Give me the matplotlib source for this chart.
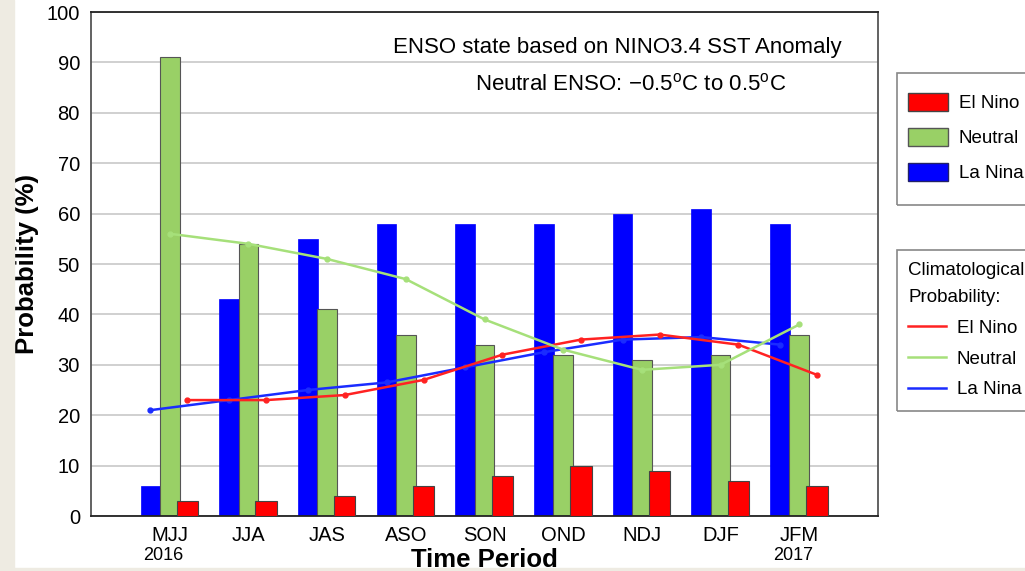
import matplotlib
matplotlib.use("Agg")
import numpy as np
import matplotlib.pyplot as plt
from matplotlib.patches import Patch, Rectangle
from matplotlib.lines import Line2D
from matplotlib.transforms import blended_transform_factory

plt.rcParams['font.family'] = ['Liberation Sans', 'DejaVu Sans']
plt.rcParams['mathtext.fontset'] = 'custom'
plt.rcParams['mathtext.rm'] = 'Liberation Sans'

# data
periods = ['MJJ', 'JJA', 'JAS', 'ASO', 'SON', 'OND', 'NDJ', 'DJF', 'JFM']
la_nina = [6, 43, 55, 58, 58, 58, 60, 61, 58]
neutral = [91, 54, 41, 36, 34, 32, 31, 32, 36]
el_nino = [3, 3, 4, 6, 8, 10, 9, 7, 6]

clim_el_nino = [23, 23, 24, 27, 32, 35, 36, 34, 28]
clim_neutral = [56, 54, 51, 47, 39, 33, 29, 30, 38]
clim_la_nina = [21, 23, 25, 26.5, 29.5, 32.5, 35, 35.5, 34]

c_red = '#ff0000'
c_green = '#99d066'
c_blue = '#0000ff'

W, H = 1025, 571
fig = plt.figure(figsize=(W / 100, H / 100), dpi=100)
fig.patches.append(Rectangle((0, 0), 14 / W, 1, transform=fig.transFigure,
                             color='#eeebe2', zorder=0))
fig.patches.append(Rectangle((0, 0), 1, 3 / H, transform=fig.transFigure,
                             color='#eeebe2', zorder=0))
ax = fig.add_axes([91 / W, 55 / H, 787 / W, 504 / H])

x = np.arange(len(periods))
w = 0.25
xb, xg, xr = x - 0.245, x, x + 0.225

ax.bar(xb, la_nina, w, color=c_blue, edgecolor=c_blue, linewidth=0.5, zorder=2)
ax.bar(xg, neutral, w, color=c_green, edgecolor='#555555', linewidth=0.8, zorder=2)
ax.bar(xr, el_nino, w + 0.02, color=c_red, edgecolor='#444444', linewidth=0.8, zorder=3)

ax.plot(xb, clim_la_nina, color='#1a2cff', lw=1.8, marker='o', ms=3.5, zorder=4)
ax.plot(xr, clim_el_nino, color='#ff2222', lw=1.8, marker='o', ms=3.5, zorder=4)
ax.plot(xg, clim_neutral, color='#a6e07a', lw=1.8, marker='o', ms=3.5, zorder=4)

ax.set_xlim(-1, 9)
ax.set_ylim(0, 100)
ax.set_yticks(range(0, 101, 10))
ax.set_xticks(x)
ax.set_xticklabels(periods)
ax.tick_params(axis='both', length=0, labelsize=14.5)
ax.tick_params(axis='y', pad=8)
ax.tick_params(axis='x', pad=7)
ax.yaxis.grid(True, color='#c8c8c8', lw=1.2, zorder=0)
ax.set_axisbelow(True)
for s in ['bottom', 'top']:
    ax.spines[s].set_color('#222222')
    ax.spines[s].set_linewidth(1.3)
for s in ['left', 'right']:
    ax.spines[s].set_color('#555555')
    ax.spines[s].set_linewidth(1.3)

ax.set_ylabel('Probability (%)', fontsize=18.5, fontweight='bold')
ax.yaxis.label.set_va('center')
ax.yaxis.set_label_coords(-(91 - 27) / 787, 0.5)
ax.set_xlabel('Time Period', fontsize=18.5, fontweight='bold')
ax.xaxis.label.set_va('top')
ax.xaxis.set_label_coords(0.5, -(548 - 516) / 504)

tr = blended_transform_factory(ax.transData, ax.transAxes)
ax.text(-0.08, -(556 - 516) / 504, '2016', transform=tr, ha='center', va='center', fontsize=13)
ax.text(7.92, -(556 - 516) / 504, '2017', transform=tr, ha='center', va='center', fontsize=13)

ax.text((617 - 91) / 787, 1 - (47 - 12) / 504, 'ENSO state based on NINO3.4 SST Anomaly',
        transform=ax.transAxes, ha='center', va='center', fontsize=16)
ax.text((631 - 91) / 787, 1 - (84 - 12) / 504,
        r'Neutral ENSO: $-$0.5$^\mathrm{o}$C to 0.5$^\mathrm{o}$C',
        transform=ax.transAxes, ha='center', va='center', fontsize=16)

# legend boxes (frames drawn separately so padding matches)
for top, bottom in [(73, 205), (250, 411)]:
    fig.patches.append(Rectangle((897 / W, 1 - bottom / H), 200 / W, (bottom - top) / H,
                                 transform=fig.transFigure, fill=False,
                                 edgecolor='#888888', lw=1.2, zorder=5))

h1 = [Patch(facecolor=c_red, edgecolor='#444444'),
      Patch(facecolor=c_green, edgecolor='#555555'),
      Patch(facecolor=c_blue, edgecolor='#222266')]
leg1 = fig.legend(h1, ['El Nino', 'Neutral', 'La Nina'], loc='upper left',
                  bbox_to_anchor=(908 / W, 1 - 93 / H), borderaxespad=0,
                  fontsize=13.5, frameon=False,
                  handlelength=2.15, handleheight=1.07, labelspacing=0.85,
                  borderpad=0, handletextpad=0.55)

h2 = [Line2D([], [], color='#ff2222', lw=1.8),
      Line2D([], [], color='#a6e07a', lw=1.8),
      Line2D([], [], color='#1a2cff', lw=1.8)]
leg2 = fig.legend(h2, ['El Nino', 'Neutral', 'La Nina'], loc='upper left',
                  bbox_to_anchor=(908 / W, 1 - 262 / H), borderaxespad=0,
                  fontsize=13.5, title='Climatological\nProbability:', title_fontsize=13.5,
                  alignment='left', frameon=False, handlelength=2.05, labelspacing=0.72,
                  borderpad=0, handletextpad=0.55)
leg2.get_title().set_linespacing(1.8)

fig.savefig('out.png', dpi=100)
